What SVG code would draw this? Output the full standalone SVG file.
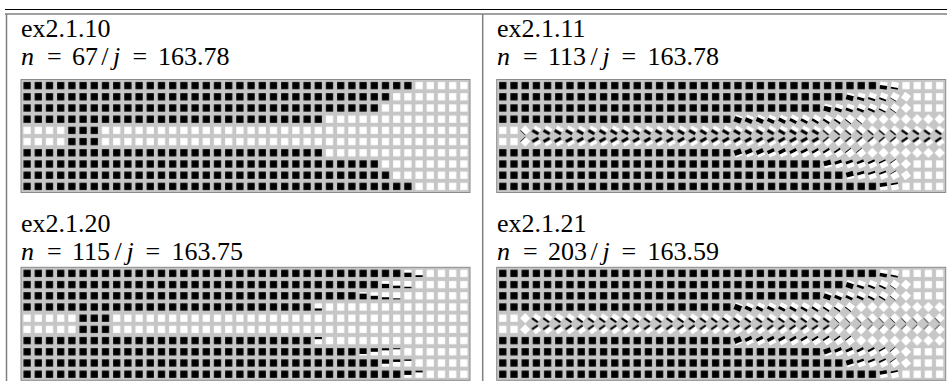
<svg xmlns="http://www.w3.org/2000/svg" width="947" height="381" viewBox="0 0 947 381">
<style>
.t{font-family:"Liberation Serif","Times New Roman",serif;font-size:26px;fill:#000}
.i{font-style:italic}
.bg{fill:#c6c6c6;stroke:#8a8a8a;stroke-width:1}
.ln{stroke:#808080;stroke-width:1.5}
</style>
<defs>
<pattern id="pk" width="11.2" height="11.2" patternUnits="userSpaceOnUse"><rect x="2" y="2" width="7.2" height="7.2" fill="#000"/></pattern>
<pattern id="pw" width="11.2" height="11.2" patternUnits="userSpaceOnUse"><rect x="2" y="2" width="7.2" height="7.2" fill="#fff"/></pattern>
<g id="t0"><rect x="-3.6" y="-3.6" width="7.2" height="7.2" fill="#fff"/></g>
<g id="t10"><use href="#t0"/><rect x="-3.6" y="2.88" width="7.2" height="0.72"/></g>
<g id="t15"><use href="#t0"/><rect x="-3.6" y="2.52" width="7.2" height="1.08"/></g>
<g id="t20"><use href="#t0"/><rect x="-3.6" y="2.16" width="7.2" height="1.44"/></g>
<g id="t25"><use href="#t0"/><rect x="-3.6" y="1.8" width="7.2" height="1.8"/></g>
<g id="t30"><use href="#t0"/><rect x="-3.6" y="1.44" width="7.2" height="2.16"/></g>
<g id="t35"><use href="#t0"/><rect x="-3.6" y="1.08" width="7.2" height="2.52"/></g>
<g id="t40"><use href="#t0"/><rect x="-3.6" y="0.72" width="7.2" height="2.88"/></g>
<g id="t45"><use href="#t0"/><rect x="-3.6" y="0.36" width="7.2" height="3.24"/></g>
<g id="t50"><use href="#t0"/><rect x="-3.6" y="0" width="7.2" height="3.6"/></g>
<g id="t60"><use href="#t0"/><rect x="-3.6" y="-0.72" width="7.2" height="4.32"/></g>
<g id="t70"><use href="#t0"/><rect x="-3.6" y="-1.44" width="7.2" height="5.04"/></g>
<g id="t80"><use href="#t0"/><rect x="-3.6" y="-2.16" width="7.2" height="5.76"/></g>
<pattern id="q1" width="11.2" height="11.2" patternUnits="userSpaceOnUse"><use href="#t45" transform="translate(5.6 5.6) rotate(30)"/></pattern>
<pattern id="q2" width="11.2" height="11.2" patternUnits="userSpaceOnUse"><use href="#t20" transform="translate(5.6 5.6) rotate(40)"/></pattern>
<pattern id="q3" width="11.2" height="11.2" patternUnits="userSpaceOnUse"><use href="#t35" transform="translate(5.6 5.6) rotate(35)"/></pattern>
<pattern id="q4" width="11.2" height="11.2" patternUnits="userSpaceOnUse"><use href="#t0" transform="translate(5.6 5.6) rotate(45)"/></pattern>
<pattern id="q5" width="11.2" height="11.2" patternUnits="userSpaceOnUse"><use href="#t30" transform="translate(5.6 5.6) rotate(35)"/></pattern>
<pattern id="q6" width="11.2" height="11.2" patternUnits="userSpaceOnUse"><use href="#t10" transform="translate(5.6 5.6) rotate(45)"/></pattern>
</defs>

<g id="table-rules">
<line x1="5" y1="9.5" x2="947" y2="9.5" stroke="#000" stroke-width="1.2"/>
<line x1="5" y1="14" x2="947" y2="14" class="ln"/>
<line x1="6.5" y1="14" x2="6.5" y2="381" class="ln"/>
<line x1="482.7" y1="14" x2="482.7" y2="381" class="ln"/>
</g>

<g id="cell-ex2-1-10">
<text class="t" x="21" y="37">ex2.1.10</text>
<text class="t" y="65"><tspan class="i" x="21">n</tspan><tspan x="47">=</tspan><tspan x="72">67</tspan><tspan x="101.2">/</tspan><tspan class="i" x="113">j</tspan><tspan x="132.4">=</tspan><tspan x="158">163.78</tspan></text>
<g id="grid-ex2-1-10" transform="translate(21.5 80)">
<rect class="bg" x="-0.5" y="-0.5" width="449" height="113"/>
<g id="h1">
<rect fill="url(#pk)" x="0" y="0" width="392" height="11.2"/>
<rect fill="url(#pw)" x="392" y="0" width="56" height="11.2"/>
<rect fill="url(#pk)" x="0" y="11.2" width="369.6" height="11.2"/>
<rect fill="url(#pw)" x="369.6" y="11.2" width="78.4" height="11.2"/>
<rect fill="url(#pk)" x="0" y="22.4" width="358.4" height="11.2"/>
<rect fill="url(#pw)" x="358.4" y="22.4" width="89.6" height="11.2"/>
<rect fill="url(#pk)" x="0" y="33.6" width="302.4" height="11.2"/>
<rect fill="url(#pw)" x="302.4" y="33.6" width="145.6" height="11.2"/>
<rect fill="url(#pw)" x="0" y="44.8" width="44.8" height="11.2"/>
<rect fill="url(#pk)" x="44.8" y="44.8" width="33.6" height="11.2"/>
<rect fill="url(#pw)" x="78.4" y="44.8" width="369.6" height="11.2"/>
</g>
<use href="#h1" transform="translate(0 112) scale(1 -1)"/>
</g>
</g>

<g id="cell-ex2-1-11">
<text class="t" x="497" y="37">ex2.1.11</text>
<text class="t" y="65"><tspan class="i" x="497">n</tspan><tspan x="523">=</tspan><tspan x="548">113</tspan><tspan x="590.4">/</tspan><tspan class="i" x="602.4">j</tspan><tspan x="621.6">=</tspan><tspan x="647.5">163.78</tspan></text>
<g id="grid-ex2-1-11" transform="translate(497.2 80)">
<rect class="bg" x="-0.5" y="-0.5" width="449" height="113"/>
<g id="h2">
<rect fill="url(#pk)" x="0" y="0" width="380.8" height="11.2"/>
<use href="#t50" transform="translate(386.4 5.6) rotate(8)"/>
<use href="#t25" transform="translate(397.6 5.6) rotate(10)"/>
<rect fill="url(#pw)" x="403.2" y="0" width="44.8" height="11.2"/>
<rect fill="url(#pk)" x="0" y="11.2" width="347.2" height="11.2"/>
<use href="#t70" transform="translate(352.8 16.8) rotate(15)"/>
<use href="#t40" transform="translate(364 16.8) rotate(15)"/>
<use href="#t30" transform="translate(375.2 16.8) rotate(18)"/>
<use href="#t25" transform="translate(386.4 16.8) rotate(20)"/>
<use href="#t10" transform="translate(397.6 16.8) rotate(30)"/>
<use href="#t0" transform="translate(408.8 16.8) rotate(35)"/>
<rect fill="url(#pw)" x="414.4" y="11.2" width="33.6" height="11.2"/>
<rect fill="url(#pk)" x="0" y="22.4" width="324.8" height="11.2"/>
<use href="#t70" transform="translate(330.4 28) rotate(15)"/>
<use href="#t45" transform="translate(341.6 28) rotate(18)"/>
<use href="#t40" transform="translate(352.8 28) rotate(20)"/>
<use href="#t35" transform="translate(364 28) rotate(22)"/>
<use href="#t30" transform="translate(375.2 28) rotate(24)"/>
<use href="#t20" transform="translate(386.4 28) rotate(26)"/>
<use href="#t10" transform="translate(397.6 28) rotate(35)"/>
<use href="#t0" transform="translate(408.8 28) rotate(45)"/>
<rect fill="url(#pw)" x="414.4" y="22.4" width="33.6" height="11.2"/>
<rect fill="url(#pk)" x="0" y="33.6" width="235.2" height="11.2"/>
<use href="#t80" transform="translate(240.8 39.2) rotate(20)"/>
<use href="#t60" transform="translate(252 39.2) rotate(22)"/>
<use href="#t60" transform="translate(263.2 39.2) rotate(24)"/>
<use href="#t50" transform="translate(274.4 39.2) rotate(25)"/>
<use href="#t50" transform="translate(285.6 39.2) rotate(26)"/>
<use href="#t45" transform="translate(296.8 39.2) rotate(27)"/>
<use href="#t40" transform="translate(308 39.2) rotate(28)"/>
<use href="#t35" transform="translate(319.2 39.2) rotate(30)"/>
<use href="#t30" transform="translate(330.4 39.2) rotate(32)"/>
<use href="#t25" transform="translate(341.6 39.2) rotate(34)"/>
<use href="#t15" transform="translate(352.8 39.2) rotate(38)"/>
<use href="#t10" transform="translate(364 39.2) rotate(40)"/>
<rect fill="url(#q4)" x="369.6" y="33.6" width="78.4" height="11.2"/>
<rect fill="url(#pw)" x="0" y="44.8" width="22.4" height="11.2"/>
<use href="#t10" transform="translate(28 50.4) rotate(45)"/>
<rect fill="url(#q1)" x="33.6" y="44.8" width="291.2" height="11.2"/>
<rect fill="url(#q2)" x="324.8" y="44.8" width="78.4" height="11.2"/>
<rect fill="url(#q3)" x="403.2" y="44.8" width="44.8" height="11.2"/>
</g>
<use href="#h2" transform="translate(0 112) scale(1 -1)"/>
</g>
</g>

<g id="cell-ex2-1-20">
<text class="t" x="21" y="231.5">ex2.1.20</text>
<text class="t" y="260"><tspan class="i" x="21">n</tspan><tspan x="47">=</tspan><tspan x="72">115</tspan><tspan x="114.4">/</tspan><tspan class="i" x="126.4">j</tspan><tspan x="145.6">=</tspan><tspan x="171.5">163.75</tspan></text>
<g id="grid-ex2-1-20" transform="translate(21.5 267.8)">
<rect class="bg" x="-0.5" y="-0.5" width="449" height="113"/>
<g id="h3">
<rect fill="url(#pk)" x="0" y="0" width="380.8" height="11.2"/>
<use href="#t60" transform="translate(386.4 5.6)"/>
<use href="#t25" transform="translate(397.6 5.6)"/>
<rect fill="url(#pw)" x="403.2" y="0" width="44.8" height="11.2"/>
<rect fill="url(#pk)" x="0" y="11.2" width="358.4" height="11.2"/>
<use href="#t60" transform="translate(364 16.8)"/>
<use href="#t35" transform="translate(375.2 16.8)"/>
<use href="#t20" transform="translate(386.4 16.8)"/>
<rect fill="url(#pw)" x="392" y="11.2" width="56" height="11.2"/>
<rect fill="url(#pk)" x="0" y="22.4" width="336" height="11.2"/>
<use href="#t80" transform="translate(341.6 28)"/>
<use href="#t50" transform="translate(352.8 28)"/>
<use href="#t30" transform="translate(364 28)"/>
<use href="#t15" transform="translate(375.2 28)"/>
<rect fill="url(#pw)" x="380.8" y="22.4" width="67.2" height="11.2"/>
<rect fill="url(#pk)" x="0" y="33.6" width="291.2" height="11.2"/>
<use href="#t30" transform="translate(296.8 39.2)"/>
<rect fill="url(#pw)" x="302.4" y="33.6" width="145.6" height="11.2"/>
<rect fill="url(#pw)" x="0" y="44.8" width="56" height="11.2"/>
<rect fill="url(#pk)" x="56" y="44.8" width="33.6" height="11.2"/>
<rect fill="url(#pw)" x="89.6" y="44.8" width="358.4" height="11.2"/>
</g>
<use href="#h3" transform="translate(0 112) scale(1 -1)"/>
</g>
</g>

<g id="cell-ex2-1-21">
<text class="t" x="497" y="231.5">ex2.1.21</text>
<text class="t" y="260"><tspan class="i" x="497">n</tspan><tspan x="523">=</tspan><tspan x="548">203</tspan><tspan x="590.4">/</tspan><tspan class="i" x="602.4">j</tspan><tspan x="621.6">=</tspan><tspan x="647.5">163.59</tspan></text>
<g id="grid-ex2-1-21" transform="translate(497.2 267.8)">
<rect class="bg" x="-0.5" y="-0.5" width="449" height="113"/>
<g id="h4">
<rect fill="url(#pk)" x="0" y="0" width="380.8" height="11.2"/>
<use href="#t50" transform="translate(386.4 5.6) rotate(10)"/>
<use href="#t25" transform="translate(397.6 5.6) rotate(12)"/>
<rect fill="url(#pw)" x="403.2" y="0" width="44.8" height="11.2"/>
<rect fill="url(#pk)" x="0" y="11.2" width="347.2" height="11.2"/>
<use href="#t70" transform="translate(352.8 16.8) rotate(18)"/>
<use href="#t35" transform="translate(364 16.8) rotate(20)"/>
<use href="#t30" transform="translate(375.2 16.8) rotate(22)"/>
<use href="#t25" transform="translate(386.4 16.8) rotate(25)"/>
<use href="#t10" transform="translate(397.6 16.8) rotate(35)"/>
<use href="#t0" transform="translate(408.8 16.8) rotate(40)"/>
<rect fill="url(#pw)" x="414.4" y="11.2" width="33.6" height="11.2"/>
<rect fill="url(#pk)" x="0" y="22.4" width="324.8" height="11.2"/>
<use href="#t70" transform="translate(330.4 28) rotate(20)"/>
<use href="#t45" transform="translate(341.6 28) rotate(22)"/>
<use href="#t40" transform="translate(352.8 28) rotate(24)"/>
<use href="#t35" transform="translate(364 28) rotate(26)"/>
<use href="#t30" transform="translate(375.2 28) rotate(28)"/>
<use href="#t20" transform="translate(386.4 28) rotate(30)"/>
<use href="#t10" transform="translate(397.6 28) rotate(40)"/>
<use href="#t0" transform="translate(408.8 28) rotate(45)"/>
<rect fill="url(#pw)" x="414.4" y="22.4" width="33.6" height="11.2"/>
<rect fill="url(#pk)" x="0" y="33.6" width="235.2" height="11.2"/>
<use href="#t80" transform="translate(240.8 39.2) rotate(22)"/>
<use href="#t50" transform="translate(252 39.2) rotate(25)"/>
<use href="#t45" transform="translate(263.2 39.2) rotate(26)"/>
<use href="#t45" transform="translate(274.4 39.2) rotate(27)"/>
<use href="#t40" transform="translate(285.6 39.2) rotate(28)"/>
<use href="#t40" transform="translate(296.8 39.2) rotate(29)"/>
<use href="#t35" transform="translate(308 39.2) rotate(30)"/>
<use href="#t30" transform="translate(319.2 39.2) rotate(32)"/>
<use href="#t25" transform="translate(330.4 39.2) rotate(33)"/>
<use href="#t20" transform="translate(341.6 39.2) rotate(35)"/>
<use href="#t15" transform="translate(352.8 39.2) rotate(38)"/>
<rect fill="url(#q4)" x="358.4" y="33.6" width="89.6" height="11.2"/>
<rect fill="url(#pw)" x="0" y="44.8" width="22.4" height="11.2"/>
<use href="#t0" transform="translate(28 50.4) rotate(45)"/>
<rect fill="url(#q5)" x="33.6" y="44.8" width="302.4" height="11.2"/>
<rect fill="url(#q6)" x="336" y="44.8" width="112" height="11.2"/>
</g>
<use href="#h4" transform="translate(0 112) scale(1 -1)"/>
</g>
</g>
</svg>
